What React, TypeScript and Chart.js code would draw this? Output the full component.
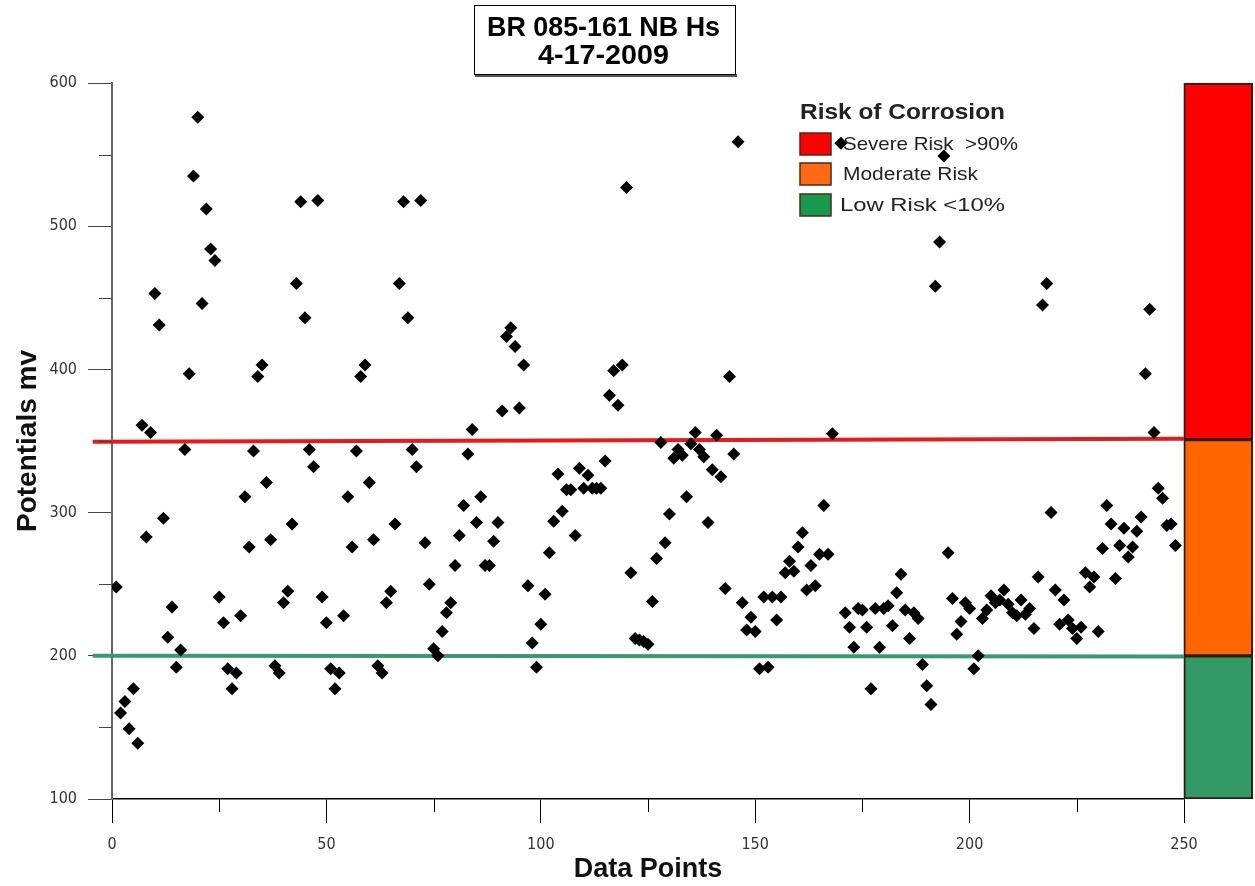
import React, { useEffect, useRef } from "react";
import { Chart, registerables } from "chart.js";

Chart.register(...registerables);

// ---------- data ----------
const xTicks = [0, 50, 100, 150, 200, 250];
const yTicks = [100, 200, 300, 400, 500, 600];
const xMinorTicks = [25, 75, 125, 175, 225];
const yMinorTicks = [150, 250, 350, 450, 550];

// potential (mV) for data points 1..248 (null = not visible)
const potentials: (number | null)[] = [
  248, 160, 168, 149, 177, 139, 361, 283, 356, 453,
  431, 296, 213, 234, 192, 204, 344, 397, 535, 576,
  446, 512, 484, 476, 241, 223, 191, 177, 188, 228,
  311, 276, 343, 395, 403, 321, 281, 193, 188, 237,
  245, 292, 460, 517, 436, 344, 332, 518, 241, 223,
  191, 177, 188, 228, 311, 276, 343, 395, 403, 321,
  281, 193, 188, 237, 245, 292, 460, 517, 436, 344,
  332, 518, 279, 250, 205, 200, 217, 230, 237, 263,
  284, 305, 341, 358, 293, 311, 263, 263, 280, 293,
  371, 423, 429, 416, 373, 403, 249, 209, 192, 222,
  243, 272, 294, 327, 301, 316, 316, 284, 331, 317,
  326, 317, 317, 317, 336, 382, 399, 375, 403, 527,
  258, 212, 211, 210, 208, 238, 268, 349, 279, 299,
  338, 344, 340, 311, 348, 356, 344, 339, 293, 330,
  354, 325, 247, 395, 341, 559, 237, 218, 227, 217,
  191, 241, 192, 241, 225, 241, 258, 266, 259, 276,
  286, 246, 263, 249, 271, 305, 271, 355, null, 558,
  230, 220, 206, 233, 232, 220, 177, 233, 206, 233,
  235, 221, 244, 257, 232, 212, 230, 226, 194, 179,
  166, 458, 489, 549, 272, 240, 215, 224, 237, 233,
  191, 200, 226, 232, 242, 237, 239, 246, 236, 230,
  228, 239, 229, 233, 219, 255, 445, 460, 300, 246,
  222, 239, 225, 219, 212, 220, 258, 248, 255, 217,
  275, 305, 292, 254, 277, 289, 269, 276, 287, 297,
  397, 442, 356, 317, 310, 291, 292, 277,
];

// threshold lines (drawn from just left of the axis to x = 250)
const thresholdX = [-4.5, 250];
const severeY = [349.5, 351.5];
const lowY = [200, 199.5];

// risk bands at the right of the plot
const bandX = 258;
const bandLow = [351, 200, 100];
const bandHigh = [600, 351, 200];
const bandColors = ["#FF0000", "#FF6600", "#339966"];

const titleLines = ["BR 085-161 NB Hs", "4-17-2009"];
const legendTitle = "Risk of Corrosion";
const legendLabels = ["Severe Risk  >90%", "Moderate Risk", "Low Risk <10%"];
const legendColors = ["#FF0000", "#FF6A13", "#16994A"];

const SANS = "'Liberation Sans', Arial, Helvetica, sans-serif";
const NARROW = "'Liberation Sans Narrow', 'DejaVu Sans Condensed', 'Liberation Sans', Arial, sans-serif";

function fitText(
  ctx: CanvasRenderingContext2D,
  text: string,
  x: number,
  y: number,
  width: number,
  font: string,
  color: string
) {
  ctx.save();
  ctx.font = font;
  ctx.fillStyle = color;
  ctx.textAlign = "left";
  ctx.textBaseline = "middle";
  const w = ctx.measureText(text).width || 1;
  ctx.translate(x, y);
  ctx.scale(width / w, 1);
  ctx.fillText(text, 0, 0);
  ctx.restore();
}

const decorPlugin = {
  id: "decor",
  afterDraw(chart: any) {
    const { ctx, chartArea, scales } = chart;
    const xs = scales.x;
    const ys = scales.y;
    ctx.save();
    // minor ticks
    ctx.lineWidth = 1;
    ctx.strokeStyle = "#000";
    xMinorTicks.forEach((v) => {
      const px = Math.round(xs.getPixelForValue(v)) + 0.5;
      ctx.beginPath();
      ctx.moveTo(px, chartArea.bottom);
      ctx.lineTo(px, chartArea.bottom + 13);
      ctx.stroke();
    });
    ctx.strokeStyle = "#444";
    yMinorTicks.forEach((v) => {
      const py = Math.round(ys.getPixelForValue(v)) + 0.5;
      ctx.beginPath();
      ctx.moveTo(chartArea.left - 13, py);
      ctx.lineTo(chartArea.left, py);
      ctx.stroke();
    });

    // title box
    ctx.fillStyle = "#fff";
    ctx.fillRect(474, 5, 262, 70);
    ctx.fillStyle = "#555";
    ctx.fillRect(475, 74, 262, 3);
    ctx.strokeStyle = "#000";
    ctx.lineWidth = 1;
    ctx.strokeRect(474.5, 5.5, 261, 69);
    fitText(ctx, titleLines[0], 487, 28, 233, `bold 28px ${SANS}`, "#000");
    fitText(ctx, titleLines[1], 538, 56, 131, `bold 28px ${SANS}`, "#000");

    // legend
    fitText(ctx, legendTitle, 800, 113, 205, `bold 22px ${SANS}`, "#222");
    const boxY = [133, 163, 194];
    const textX = [843, 843, 840];
    const textW = [175, 135, 165];
    legendLabels.forEach((lab, i) => {
      ctx.fillStyle = legendColors[i];
      ctx.fillRect(800, boxY[i], 31, 22);
      ctx.strokeStyle = "#4a2a20";
      ctx.lineWidth = 1.5;
      ctx.strokeRect(800, boxY[i], 31, 22);
      fitText(ctx, lab, textX[i], boxY[i] + 12, textW[i], `19px ${SANS}`, "#222");
    });
    ctx.restore();
  },
};

export default function App() {
  const ref = useRef<HTMLCanvasElement | null>(null);

  useEffect(() => {
    if (!ref.current) return;
    const points = potentials
      .map((v, i) => (v === null ? null : { x: i + 1, y: v }))
      .filter((p) => p !== null);

    const chart = new Chart(ref.current, {
      type: "scatter",
      data: {
        datasets: [
          {
            type: "scatter",
            label: "Potentials",
            data: points as any,
            pointStyle: "rectRot",
            pointRadius: 6.5,
            pointHoverRadius: 6.5,
            backgroundColor: "#000",
            borderColor: "#000",
            borderWidth: 0,
            order: 0,
          },
          {
            type: "line",
            label: "Severe threshold",
            data: thresholdX.map((x, i) => ({ x, y: severeY[i] })),
            borderColor: "#E41A1C",
            borderWidth: 4,
            pointRadius: 0,
            clip: false as any,
            order: 1,
          },
          {
            type: "line",
            label: "Low threshold",
            data: thresholdX.map((x, i) => ({ x, y: lowY[i] })),
            borderColor: "#3A9A6C",
            borderWidth: 4,
            pointRadius: 0,
            clip: false as any,
            order: 1,
          },
          {
            type: "bar",
            label: "Risk bands",
            data: bandLow.map((lo, i) => ({ x: bandX, y: [lo, bandHigh[i]] })) as any,
            backgroundColor: bandColors,
            borderColor: "#2f1c14",
            borderWidth: 2,
            borderSkipped: false,
            barThickness: 69,
            grouped: false,
            clip: false as any,
            order: 2,
          } as any,
        ],
      },
      options: {
        responsive: false,
        animation: false,
        events: [],
        layout: { padding: { top: 83, right: 71, left: 0, bottom: 0 } },
        plugins: {
          legend: { display: false },
          title: { display: false },
          tooltip: { enabled: false },
        },
        scales: {
          x: {
            type: "linear",
            min: 0,
            max: 250,
            offset: false,
            afterFit: (s: any) => {
              s.height = 87;
            },
            afterBuildTicks: (s: any) => {
              s.ticks = xTicks.map((v) => ({ value: v }));
            },
            grid: {
              offset: false,
              drawOnChartArea: false,
              drawTicks: true,
              tickLength: 24,
              tickColor: "#000",
              tickWidth: 1,
            },
            border: { display: true, color: "#000", width: 1.5 },
            ticks: {
              padding: 12,
              color: "#333",
              font: { family: NARROW, size: 16 },
              maxRotation: 0,
            },
            title: {
              display: true,
              text: "Data Points",
              color: "#111",
              font: { family: SANS, size: 27, weight: "bold" },
              padding: { top: 0, bottom: 0 },
            },
          },
          y: {
            type: "linear",
            min: 100,
            max: 600,
            afterFit: (s: any) => {
              s.width = 112;
            },
            afterBuildTicks: (s: any) => {
              s.ticks = yTicks.map((v) => ({ value: v }));
            },
            grid: {
              drawOnChartArea: false,
              drawTicks: true,
              tickLength: 24,
              tickColor: "#444",
              tickWidth: 1,
            },
            border: { display: true, color: "#666", width: 2 },
            ticks: {
              padding: 11,
              color: "#333",
              font: { family: NARROW, size: 16 },
            },
            title: {
              display: true,
              text: "Potentials mv",
              color: "#111",
              font: { family: SANS, size: 28, weight: "bold" },
              padding: { top: 11, bottom: 0 },
            },
          },
        },
      },
      plugins: [decorPlugin],
    });

    return () => chart.destroy();
  }, []);

  return (
    <canvas
      ref={ref}
      width={1255}
      height={886}
      style={{ position: "absolute", left: 0, top: 0, display: "block" }}
    />
  );
}
